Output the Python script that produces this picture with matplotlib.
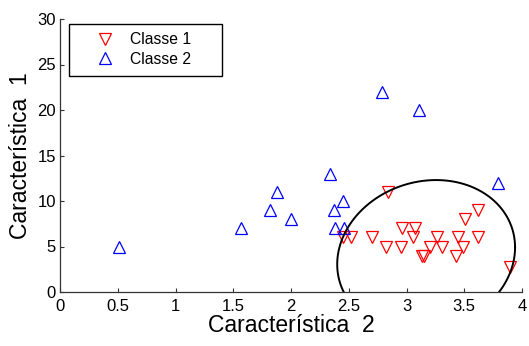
import numpy as np
import matplotlib.pyplot as plt

plt.rcParams['font.family'] = ['Liberation Sans', 'DejaVu Sans']

# Classe 1 (red, down triangles)
c1_x = [2.84, 2.45, 2.52, 2.70, 2.82, 2.95, 2.96, 3.07, 3.06, 3.13, 3.15,
        3.20, 3.26, 3.31, 3.45, 3.49, 3.43, 3.51, 3.62, 3.62, 3.90]
c1_y = [11, 6, 6, 6, 5, 5, 7, 7, 6, 4, 4,
        5, 6, 5, 6, 5, 4, 8, 9, 6, 2.8]

# Classe 2 (blue, up triangles)
c2_x = [0.51, 1.57, 1.82, 1.88, 2.00, 2.34, 2.37, 2.38, 2.45, 2.46, 2.79, 3.11, 3.79]
c2_y = [5, 7, 9, 11, 8, 13, 9, 7, 10, 7, 22, 20, 12]

# ellipse (decision boundary): centre, half-width, half-height, tilt term
ell_cx, ell_cy = 3.17, 3.97
ell_a, ell_b, ell_c = 0.77, 8.28, 0.93

xticks = [0, 0.5, 1, 1.5, 2, 2.5, 3, 3.5, 4]
xtick_labels = ['0', '0.5', '1', '1.5', '2', '2.5', '3', '3.5', '4']
yticks = [0, 5, 10, 15, 20, 25, 30]

fig = plt.figure(figsize=(5.29, 3.46), dpi=100)
ax = fig.add_axes([60/529, 1-292/346, 462/529, 273/346])

ax.plot(c1_x, c1_y, 'v', ms=8, mfc='none', mec='#ff0000', mew=0.9, ls='none', label='Classe 1')
ax.plot(c2_x, c2_y, '^', ms=8, mfc='none', mec='#0000ff', mew=0.9, ls='none', label='Classe 2')

t = np.linspace(0, 2*np.pi, 400)
ax.plot(ell_cx + ell_a*np.cos(t), ell_cy + ell_b*np.sin(t) + ell_c*np.cos(t), color='black', lw=1.4)

ax.set_xlim(0, 4)
ax.set_ylim(0, 30)
ax.set_xticks(xticks)
ax.set_xticklabels(xtick_labels)
ax.set_yticks(yticks)
ax.tick_params(direction='in', length=3, width=0.8, labelsize=12, color='#333333')
ax.tick_params(axis='x', pad=5)
ax.tick_params(axis='y', pad=3)
for s in ['top', 'right']:
    ax.spines[s].set_visible(False)
for s in ['left', 'bottom']:
    ax.spines[s].set_color('#333333')
    ax.spines[s].set_linewidth(0.9)

ax.set_xlabel('Característica  2', fontsize=16.5, labelpad=0)
ax.set_ylabel('Característica  1', fontsize=16.5, labelpad=4)

leg = ax.legend(loc='upper left', bbox_to_anchor=(69/529, 1-27/346, 153/529, 0.01),
                bbox_transform=fig.transFigure, mode='expand', borderaxespad=0,
                fontsize=11.3, numpoints=1, handlelength=3.5, handletextpad=-0.15,
                labelspacing=0.3, borderpad=0.55, fancybox=False, framealpha=1)
leg.get_frame().set_edgecolor('black')
leg.get_frame().set_linewidth(1.0)

fig.savefig('out.png', dpi=100)
